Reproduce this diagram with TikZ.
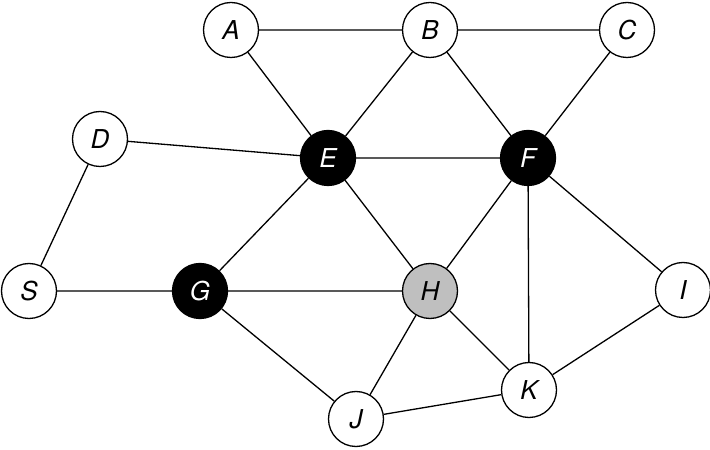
\documentclass[tikz,border=0pt]{standalone}
\usepackage{fontspec}
\setsansfont{TeX Gyre Heros}
\begin{document}
\begin{tikzpicture}[x=1pt,y=1pt,
  vtx/.style={circle,draw=black,line width=1.3pt,minimum size=55pt,inner sep=0pt,fill=white,
    font=\sffamily\itshape\fontsize{26}{26}\selectfont},
  dark/.style={vtx,fill=black,text=white},
  grey/.style={vtx,fill=black!25},
  edge/.style={line width=1.3pt}]
\useasboundingbox (0,0) rectangle (710,450);
\node[vtx]  (A) at (231,420) {A};
\node[vtx]  (B) at (430,420) {B};
\node[vtx]  (C) at (627,420) {C};
\node[vtx]  (D) at (100,311) {D};
\node[dark] (E) at (328,292) {E};
\node[dark] (F) at (528,292) {F};
\node[vtx]  (S) at (29,159) {S};
\node[dark] (G) at (200,159) {G};
\node[grey] (H) at (430,159) {H};
\node[vtx]  (I) at (683,160) {I};
\node[vtx]  (K) at (529,60) {K};
\node[vtx]  (J) at (356,31) {J};
\begin{scope}[on background layer/.try]
\end{scope}
\draw[edge] (A)--(B) (B)--(C) (A)--(E) (B)--(E) (B)--(F) (C)--(F)
  (D)--(E) (E)--(F) (D)--(S) (S)--(G) (E)--(G) (E)--(H) (G)--(H)
  (F)--(H) (F)--(K) (F)--(I) (G)--(J) (H)--(J) (H)--(K) (I)--(K) (J)--(K);
\end{tikzpicture}
\end{document}
